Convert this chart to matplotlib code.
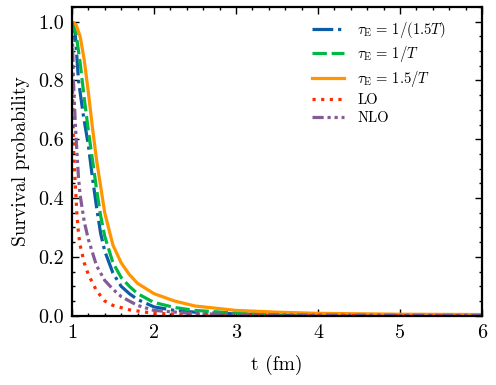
import numpy as np
import matplotlib.pyplot as plt

# values (t in fm, survival probability)
t_orange = [1.0, 1.05, 1.1, 1.15, 1.2, 1.25, 1.3, 1.35, 1.4, 1.5, 1.6, 1.7, 1.8, 2.0, 2.25, 2.5, 3.0, 3.5, 4.0, 5.0, 6.0]
p_orange = [1.0, 0.99, 0.95, 0.87, 0.76, 0.64, 0.53, 0.44, 0.35, 0.24, 0.18, 0.14, 0.11, 0.075, 0.05, 0.033, 0.018, 0.012, 0.008, 0.005, 0.004]

t_green = [1.0, 1.05, 1.1, 1.15, 1.2, 1.25, 1.3, 1.35, 1.4, 1.5, 1.6, 1.7, 1.8, 2.0, 2.25, 2.5, 3.0, 4.0, 6.0]
p_green = [1.0, 0.96, 0.86, 0.74, 0.63, 0.53, 0.43, 0.34, 0.27, 0.18, 0.13, 0.10, 0.075, 0.045, 0.028, 0.018, 0.009, 0.004, 0.002]

t_blue = [1.0, 1.04, 1.08, 1.14, 1.2, 1.25, 1.3, 1.35, 1.4, 1.5, 1.6, 1.7, 1.8, 2.0, 2.25, 2.5, 3.0, 4.0, 6.0]
p_blue = [1.0, 0.96, 0.80, 0.68, 0.58, 0.47, 0.37, 0.28, 0.22, 0.145, 0.10, 0.075, 0.055, 0.03, 0.018, 0.012, 0.006, 0.003, 0.001]

t_lo = [1.0, 1.005, 1.01, 1.02, 1.04, 1.06, 1.08, 1.1, 1.15, 1.2, 1.3, 1.4, 1.5, 1.7, 2.0, 2.5, 3.0, 6.0]
p_lo = [1.0, 0.85, 0.72, 0.57, 0.45, 0.35, 0.28, 0.24, 0.18, 0.14, 0.085, 0.05, 0.035, 0.02, 0.008, 0.003, 0.001, 0.0]

t_nlo = [1.0, 1.01, 1.02, 1.04, 1.06, 1.08, 1.1, 1.15, 1.2, 1.3, 1.4, 1.5, 1.6, 1.7, 1.8, 2.0, 2.5, 3.0, 4.0, 6.0]
p_nlo = [1.0, 0.9, 0.79, 0.66, 0.56, 0.47, 0.41, 0.32, 0.26, 0.17, 0.12, 0.09, 0.065, 0.05, 0.035, 0.018, 0.007, 0.004, 0.002, 0.001]

plt.rcParams['font.family'] = 'serif'
plt.rcParams['font.serif'] = ['cmr10']
plt.rcParams['mathtext.fontset'] = 'cm'
plt.rcParams['axes.formatter.use_mathtext'] = True

fig, ax = plt.subplots(figsize=(4.96, 3.85), dpi=100)
lw = 2.3
ax.plot(t_blue, p_blue, color='#0C5DA5', lw=lw, ls=(0, (6.5, 1.5, 1, 1.5)), label=r'$\tau_{\rm E}\,=\,1/(1.5T)$')
ax.plot(t_green, p_green, color='#00B945', lw=lw, ls=(0, (4.5, 1.5)), label=r'$\tau_{\rm E}\,=\,1/T$')
ax.plot(t_orange, p_orange, color='#FF9500', lw=lw, ls='-', label=r'$\tau_{\rm E}\,=\,1.5/T$')
ax.plot(t_lo, p_lo, color='#FF2C00', lw=lw, ls=(0, (1, 1.7)), label='LO')
ax.plot(t_nlo, p_nlo, color='#845B97', lw=lw, ls=(0, (3.5, 1.2, 1, 1.2, 1, 1.2)), label='NLO')

ax.set_xlim(1, 6)
ax.set_ylim(0, 1.05)
ax.set_xticks([1, 2, 3, 4, 5, 6])
ax.set_yticks([0, 0.2, 0.4, 0.6, 0.8, 1.0])
ax.set_xticks(np.arange(1, 6.01, 0.2), minor=True)
ax.set_yticks(np.arange(0, 1.051, 0.05), minor=True)
ax.set_xticklabels(['1', '2', '3', '4', '5', '6'])
ax.set_yticklabels(['0.0', '0.2', '0.4', '0.6', '0.8', '1.0'])
ax.tick_params(which='both', direction='in', top=True, right=True, labelsize=14.5, width=1.0)
ax.tick_params(which='major', length=5, pad=6)
ax.tick_params(which='minor', length=2.5)
for s in ax.spines.values():
    s.set_linewidth(1.6)

ax.set_xlabel('t (fm)', fontsize=14, labelpad=9)
ax.set_ylabel('Survival probability', fontsize=14, labelpad=6)
ax.legend(loc='upper right', bbox_to_anchor=(0.943, 1.0), frameon=False, fontsize=10.5,
          handlelength=2.2, handletextpad=0.9, labelspacing=0.3)

fig.subplots_adjust(left=0.145, right=0.972, top=0.982, bottom=0.18)
fig.savefig('out.png')
